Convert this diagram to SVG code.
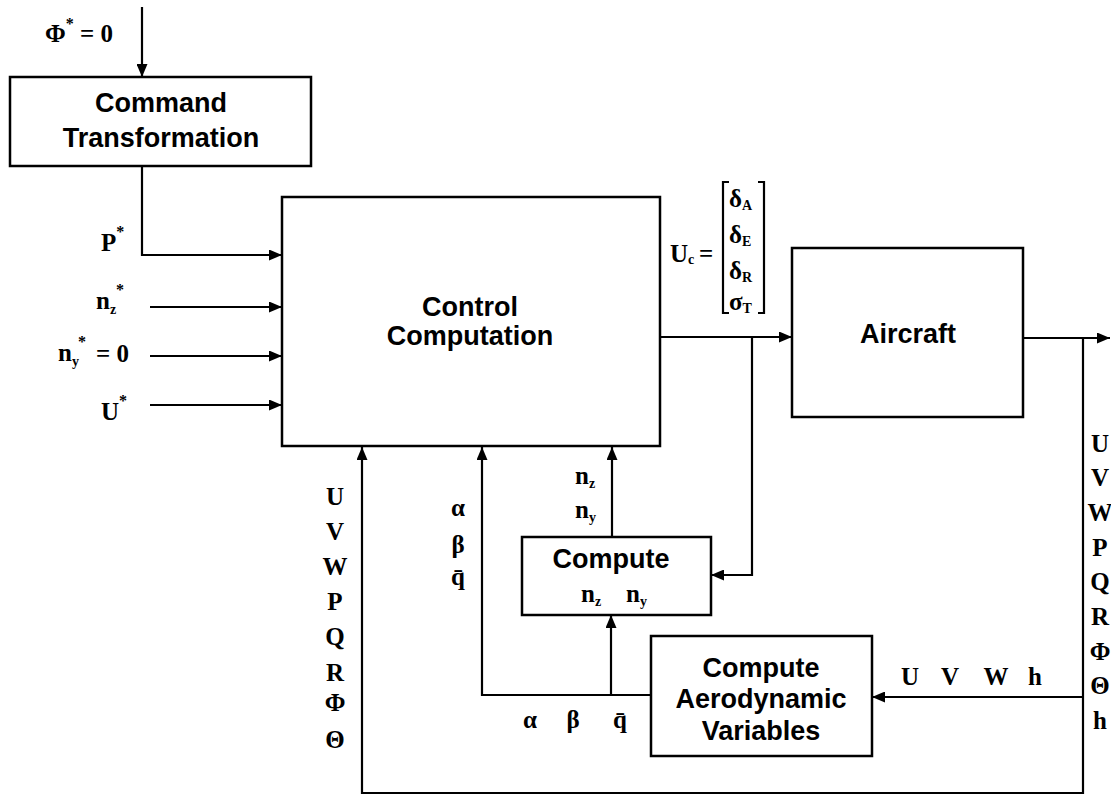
<svg xmlns="http://www.w3.org/2000/svg" width="1111" height="796" viewBox="0 0 1111 796">
<style>
.box{fill:#fff;stroke:#000;stroke-width:2.5}
.ln{fill:none;stroke:#000;stroke-width:2.2}
.t{font-family:"Liberation Sans",Arial,sans-serif;font-weight:bold;font-size:27px;text-anchor:middle;fill:#000}
.m{font-family:"Liberation Serif","Times New Roman",serif;font-weight:bold;font-size:25px;fill:#000}
.mc{font-family:"Liberation Serif","Times New Roman",serif;font-weight:bold;font-size:25px;fill:#000;text-anchor:middle}
.sub{font-size:14px}
.sup{font-size:16px}
</style>
<defs>
<marker id="ah" viewBox="0 0 13 11" refX="13" refY="5.5" markerWidth="13" markerHeight="11" markerUnits="userSpaceOnUse" orient="auto">
<path d="M0,0 L13,5.5 L0,11 z" fill="#000"/>
</marker>
</defs>
<rect width="1111" height="796" fill="#fff"/>

<g id="connectors">
<path class="ln" d="M142,7 V77" marker-end="url(#ah)"/>
<path class="ln" d="M142,166 V255 H282" marker-end="url(#ah)"/>
<path class="ln" d="M150,307 H282" marker-end="url(#ah)"/>
<path class="ln" d="M150,356 H282" marker-end="url(#ah)"/>
<path class="ln" d="M150,405 H282" marker-end="url(#ah)"/>
<path class="ln" d="M660,337 H792" marker-end="url(#ah)"/>
<path class="ln" d="M752,337 V575 H711" marker-end="url(#ah)"/>
<path class="ln" d="M1023,338 H1110" marker-end="url(#ah)"/>
<path class="ln" d="M1083,338 V793 H362 V447" marker-end="url(#ah)"/>
<path class="ln" d="M1083,697 H872" marker-end="url(#ah)"/>
<path class="ln" d="M651,695 H482 V447" marker-end="url(#ah)"/>
<path class="ln" d="M611,695 V615" marker-end="url(#ah)"/>
<path class="ln" d="M612,537 V447" marker-end="url(#ah)"/>
</g>

<g id="command-transformation">
<rect class="box" x="10" y="77" width="301" height="89"/>
<text class="t" x="161" y="112">Command</text>
<text class="t" x="161" y="147">Transformation</text>
</g>

<g id="control-computation">
<rect class="box" x="282" y="197" width="378" height="249"/>
<text class="t" x="470" y="316">Control</text>
<text class="t" x="470" y="345">Computation</text>
</g>

<g id="aircraft">
<rect class="box" x="792" y="248" width="231" height="169"/>
<text class="t" x="908" y="343">Aircraft</text>
</g>

<g id="compute-n">
<rect class="box" x="522" y="537" width="189" height="78"/>
<text class="t" x="611" y="568">Compute</text>
<text class="m" x="581" y="602" font-size="23">n<tspan class="sub" dy="4">z</tspan></text>
<text class="m" x="626" y="602" font-size="23">n<tspan class="sub" dy="4">y</tspan></text>
</g>

<g id="compute-aero">
<rect class="box" x="651" y="636" width="221" height="120"/>
<text class="t" x="761" y="677">Compute</text>
<text class="t" x="761" y="708">Aerodynamic</text>
<text class="t" x="761" y="740">Variables</text>
</g>

<g id="labels">
<text class="m" x="45" y="42" font-size="27">Φ<tspan class="sup" dy="-13">*</tspan><tspan dy="13"> = 0</tspan></text>
<text class="m" x="101" y="251">P<tspan class="sup" dy="-14">*</tspan></text>
<text class="m" x="96" y="309">n<tspan class="sub" dy="5">z</tspan></text>
<text class="m sup" x="116" y="295">*</text>
<text class="m" x="58" y="361">n<tspan class="sub" dy="5">y</tspan></text>
<text class="m sup" x="78" y="347">*</text>
<text class="m" x="96" y="362" font-size="27">= 0</text>
<text class="m" x="101" y="420">U<tspan class="sup" dy="-14">*</tspan></text>

<text class="m" x="670" y="262">U<tspan class="sub" dy="2">c</tspan></text>
<text class="m" x="699" y="262">=</text>
<path class="ln" d="M729,182 H723 V313 H729 M758,182 H764 V313 H758" stroke-width="2.5"/>
<text class="m" x="729" y="207" font-size="22">δ<tspan class="sub" dy="3">A</tspan></text>
<text class="m" x="729" y="243" font-size="22">δ<tspan class="sub" dy="3">E</tspan></text>
<text class="m" x="729" y="279" font-size="22">δ<tspan class="sub" dy="3">R</tspan></text>
<text class="m" x="729" y="310" font-size="22">σ<tspan class="sub" dy="3">T</tspan></text>

<text class="mc" x="335" y="505">U</text>
<text class="mc" x="335" y="540">V</text>
<text class="mc" x="335" y="575">W</text>
<text class="mc" x="335" y="610">P</text>
<text class="mc" x="335" y="645">Q</text>
<text class="mc" x="335" y="681">R</text>
<text class="mc" x="335" y="711">Φ</text>
<text class="mc" x="335" y="748">Θ</text>

<text class="mc" x="458" y="516">α</text>
<text class="mc" x="458" y="553">β</text>
<text class="mc" x="458" y="585">q̄</text>

<text class="m" x="575" y="484">n<tspan class="sub" dy="4">z</tspan></text>
<text class="m" x="575" y="518">n<tspan class="sub" dy="4">y</tspan></text>

<text class="mc" x="530" y="728">α</text>
<text class="mc" x="573" y="728">β</text>
<text class="mc" x="620" y="728">q̄</text>

<text class="mc" x="910" y="685">U</text>
<text class="mc" x="950" y="685">V</text>
<text class="mc" x="996" y="685">W</text>
<text class="mc" x="1035" y="685">h</text>

<text class="mc" x="1100" y="452">U</text>
<text class="mc" x="1100" y="486">V</text>
<text class="mc" x="1100" y="521">W</text>
<text class="mc" x="1100" y="556">P</text>
<text class="mc" x="1100" y="590">Q</text>
<text class="mc" x="1100" y="625">R</text>
<text class="mc" x="1100" y="660">Φ</text>
<text class="mc" x="1100" y="694">Θ</text>
<text class="mc" x="1100" y="729">h</text>
</g>
</svg>
